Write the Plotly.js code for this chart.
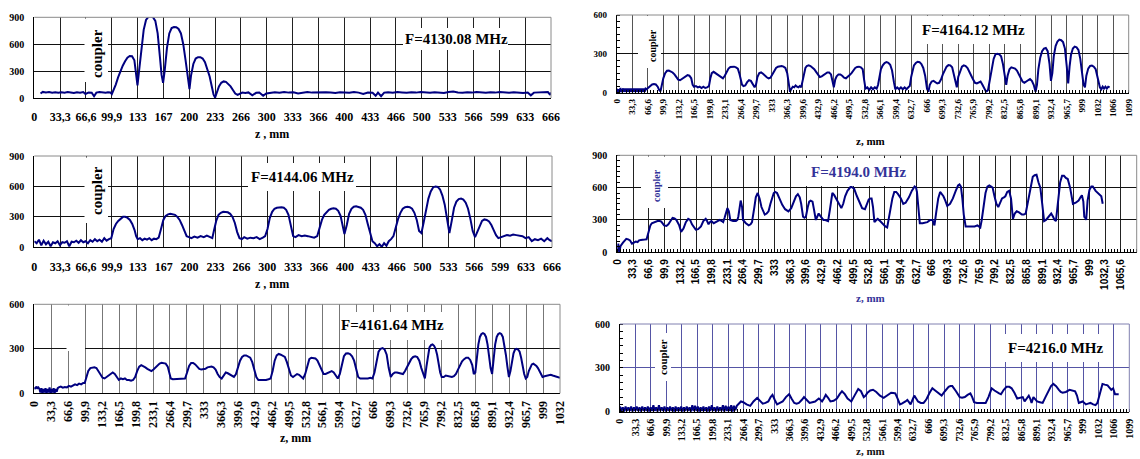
<!DOCTYPE html>
<html><head><meta charset="utf-8">
<script src="https://cdn.plot.ly/plotly-3.0.1.min.js"></script>
<style>html,body{margin:0;padding:0;background:#fff}#chart{width:1140px;height:459px}</style>
</head><body><div id="chart"></div>
<script>
// ---------------- tick labels ----------------
const ticks666 = ["0","33,3","66,6","99,9","133","167","200","233","266","300","333","366","400","433","466","500","533","566","599","633","666"];
const ticks1032 = ["0","33,3","66,6","99,9","133,2","166,5","199,8","233,1","266,4","299,7","333","366,3","399,6","432,9","466,2","499,5","532,8","566,1","599,4","632,7","666","699,3","732,6","765,9","799,2","832,5","865,8","899,1","932,4","965,7","999","1032"];
const ticks1099 = ticks1032.concat(["1066","1099"]);
const ticks1098 = ticks1032.slice(0,31).concat(["1032,3","1065,6","1098,9"]);
const freqs = ["F=4130.08 MHz","F=4144.06 MHz","F=4161.64 MHz","F=4164.12 MHz","F=4194.0 MHz","F=4216.0 MHz"];

// ---------------- measured scans: [z (mm), field] ----------------
const scan4130 = [[8,50],[11,68],[15,62],[19,66],[23,60],[27,64],[31,58],[35,65],[39,60],[43,66],[47,61],[51,55],[55,64],[59,60],[63,66],[66,45],[70,62],[74,58],[77,20],[80,60],[84,66],[88,62],[92,58],[95,64],[98,62],[100,45],
[102,80],[105,150],[108,230],[111,300],[114,360],[117,410],[120,450],[123,468],[126,465],[129,420],[131,300],[133,140],[135,300],[138,560],[141,760],[144,870],[147,905],[150,910],[153,900],[156,860],[159,720],[162,450],[164,260],[166,170],[168,300],[171,560],[174,720],[177,780],[180,792],[183,790],[186,770],[189,720],[192,600],[195,420],[198,220],[200,100],[202,250],[205,380],[208,440],[211,455],[214,455],[217,440],[220,400],[223,330],[226,240],[229,120],[231,40],[233,5],[235,60],[238,130],[241,170],[244,185],[247,180],[250,160],[253,130],[256,90],[259,50],[262,35],[265,45],
[268,60],[272,55],[276,62],[281,30],[286,58],[290,62],[295,25],[299,50],[304,60],[310,65],[316,58],[322,66],[328,60],[334,64],[340,50],[346,62],[352,66],[358,60],[364,63],[370,58],[376,65],[382,62],[388,55],[394,64],[400,62],[406,58],[412,66],[418,60],[424,45],[430,62],[436,58],[440,25],[443,60],[447,20],[451,60],[456,64],[462,58],[468,66],[474,62],[480,58],[486,64],[492,60],[498,66],[504,62],[510,58],[516,64],[522,60],[528,55],[534,66],[540,72],[546,62],[552,58],[558,64],[564,60],[570,66],[576,62],[582,58],[588,64],[594,60],[600,66],[606,62],[612,58],[618,64],[624,60],[630,56],[636,62],[640,30],[644,60],[650,64],[656,60],[662,66],[665,35],[666,60]];

const scan4144 = [[0,60],[3,40],[6,75],[9,20],[12,65],[15,30],[18,55],[21,10],[24,50],[27,40],[30,60],[33,20],[36,50],[39,45],[42,60],[45,10],[48,55],[51,50],[54,65],[57,45],[60,70],[63,50],[66,60],[69,40],[72,70],[75,55],[78,80],[81,60],[84,75],[87,55],[90,90],[93,65],[96,80],[99,90],
[102,180],[105,230],[108,260],[111,285],[114,300],[117,300],[120,290],[123,270],[126,230],[129,170],[131,110],[133,80],[136,90],[139,70],[142,85],[145,75],[148,90],[151,70],[154,85],[157,80],[160,95],[163,180],[166,270],[169,310],[172,325],[175,330],[178,325],[181,320],[184,300],[187,270],[190,220],[193,160],[196,110],[199,100],[202,90],[206,105],[210,95],[214,110],[218,100],[222,115],[226,100],[229,90],[231,160],[234,260],[237,320],[240,340],[243,350],[246,350],[249,345],[252,330],[255,300],[258,240],[261,150],[264,90],[267,80],[270,100],[274,85],[278,95],[282,90],[286,100],[290,80],[294,95],[297,110],
[300,180],[303,290],[306,350],[309,380],[312,390],[315,395],[318,395],[321,390],[324,370],[327,320],[330,220],[333,110],[336,100],[340,120],[344,110],[348,115],[352,110],[356,100],[360,95],[364,110],[367,200],[370,270],[373,320],[376,350],[379,370],[382,380],[385,385],[388,380],[391,360],[394,310],[397,200],[399,130],[402,220],[405,330],[408,380],[411,400],[414,405],[417,400],[420,390],[423,370],[426,320],[429,230],[432,150],[435,60],[438,40],[441,10],[444,30],[447,5],[450,40],[453,15],[456,60],[459,80],[462,110],[465,200],[468,280],[471,340],[474,380],[477,395],[480,400],[483,395],[486,380],[489,340],[492,270],[495,160],[498,140],
[501,250],[504,380],[507,480],[510,550],[513,590],[516,600],[519,595],[522,570],[525,510],[528,420],[531,280],[534,140],[537,260],[540,390],[543,450],[546,475],[549,480],[552,470],[555,440],[558,380],[561,280],[564,160],[567,100],[570,160],[573,220],[576,260],[579,275],[582,270],[585,255],[588,220],[591,170],[594,120],[597,90],[600,100],[604,110],[608,120],[612,115],[616,125],[620,120],[624,115],[628,110],[632,90],[636,100],[640,60],[644,80],[648,70],[652,85],[656,60],[660,90],[663,70],[666,60]];

const scan4161 = [[0,40],[2,30],[4,45],[6,35],[8,40],[10,30],[12,5],[14,35],[16,0],[18,30],[20,5],[22,35],[24,0],[26,30],[28,5],[30,40],[32,0],[34,30],[36,5],[38,35],[40,0],[42,30],[44,10],[46,35],[48,40],[52,45],[56,38],[60,42],[64,40],[68,50],[72,45],[76,55],[80,60],[84,55],[88,65],[92,60],[96,70],[99,70],
[102,110],[106,150],[110,170],[114,175],[118,175],[122,170],[126,150],[130,125],[134,105],[138,100],[142,110],[146,125],[150,135],[154,140],[158,130],[162,110],[166,90],[170,100],[174,95],[178,100],[182,90],[186,90],[190,85],[194,90],[198,110],[202,150],[206,180],[210,190],[214,185],[218,175],[222,165],[226,155],[230,150],[234,160],[238,175],[242,190],[246,200],[250,205],[254,205],[258,200],[262,180],[265,130],[268,100],[272,95],[276,95],[280,95],[284,95],[288,95],[292,95],[296,100],
[300,140],[304,185],[308,205],[312,205],[316,195],[320,180],[324,165],[328,160],[332,160],[336,165],[340,175],[344,180],[348,180],[352,175],[356,160],[360,130],[364,110],[368,100],[372,120],[376,140],[380,135],[384,125],[388,115],[392,110],[396,130],[400,180],[404,220],[408,245],[412,255],[416,255],[420,250],[424,240],[428,210],[432,160],[436,110],[440,90],[445,90],[450,85],[455,90],[460,95],[464,100],[468,150],[472,220],[476,255],[480,265],[484,260],[488,255],[492,245],[496,210],
[500,160],[504,120],[508,110],[512,120],[516,130],[520,125],[524,115],[528,100],[532,130],[536,190],[540,230],[544,240],[548,240],[552,235],[556,220],[560,190],[564,150],[568,130],[572,130],[576,135],[580,145],[584,150],[588,140],[592,120],[596,100],[600,130],[604,200],[608,250],[612,268],[616,270],[620,265],[624,250],[628,220],[632,170],[636,110],[640,100],[645,100],[650,95],[655,100],[660,105],[664,100],[668,140],[672,220],[676,280],[680,300],[684,305],[688,295],[692,260],[696,170],
[700,110],[704,130],[708,140],[712,140],[716,135],[720,130],[724,130],[728,150],[732,180],[736,210],[740,230],[744,245],[748,250],[752,245],[756,220],[760,170],[764,120],[767,100],[770,180],[773,260],[776,310],[779,325],[782,330],[785,320],[788,300],[791,260],[794,200],[797,140],[800,110],[804,110],[808,120],[812,115],[816,115],[820,110],[824,115],[828,130],[832,160],[836,190],[840,215],[844,230],[848,240],[852,240],[856,225],[860,190],[863,130],[866,140],[869,250],[872,330],[875,380],[878,400],[881,405],[884,400],[887,380],[890,330],[893,250],[896,170],[899,130],
[902,230],[905,330],[908,380],[911,400],[914,405],[917,400],[920,380],[923,330],[926,260],[929,180],[932,110],[935,150],[938,220],[941,270],[944,295],[947,300],[950,295],[953,280],[956,240],[959,180],[962,130],[965,100],[968,110],[971,150],[974,180],[977,195],[980,200],[983,195],[986,185],[989,170],[992,150],[995,125],[998,110],[1002,115],[1006,120],[1010,125],[1014,125],[1018,120],[1022,115],[1026,115],[1030,110],[1032.3,105]];

const scan4164 = [[0,30],[2,0],[4,25],[6,5],[8,35],[10,0],[12,20],[14,30],[16,5],[18,30],[20,5],[22,30],[24,5],[26,30],[28,5],[30,30],[32,5],[34,30],[36,5],[38,30],[40,5],[42,30],[44,5],[46,30],[48,5],[50,30],[52,5],[54,30],[56,5],[58,30],[60,5],[62,30],
[64,25],[68,40],[72,55],[76,62],[80,65],[84,62],[88,45],[91,20],[94,10],[97,60],[100,110],[104,150],[108,168],[112,170],[116,165],[120,155],[124,140],[128,120],[132,100],[136,95],[140,105],[144,115],[148,130],[152,135],[156,130],[160,110],[163,60],[166,45],[170,50],[174,40],[178,45],[182,35],[186,45],[190,35],[194,40],[198,50],
[201,110],[204,150],[208,160],[212,150],[216,140],[220,125],[224,115],[228,110],[232,130],[236,160],[240,185],[244,198],[248,200],[252,200],[256,195],[260,185],[263,150],[266,90],[269,60],[272,50],[276,55],[280,80],[284,95],[288,90],[292,65],[296,40],[299,60],
[302,120],[306,150],[310,155],[314,145],[318,130],[322,118],[326,110],[330,115],[334,140],[338,170],[342,190],[346,200],[350,205],[354,205],[358,200],[362,190],[366,150],[369,70],[372,5],[375,30],[378,45],[381,40],[384,55],[387,45],[390,40],[393,50],[396,40],[399,90],
[402,150],[405,190],[408,205],[412,210],[416,205],[420,195],[424,180],[428,160],[432,135],[436,120],[440,125],[444,135],[448,145],[452,155],[456,155],[460,140],[463,90],[466,40],[469,100],[472,125],[476,140],[480,140],[484,130],[488,115],[492,110],[496,120],
[500,135],[504,150],[508,170],[512,190],[516,198],[520,200],[524,195],[528,180],[531,100],[534,30],[538,40],[542,20],[546,40],[550,25],[554,40],[558,30],[561,60],[564,130],[567,180],[571,210],[575,228],[579,235],[583,230],[587,215],[591,170],[595,80],[598,25],
[602,40],[606,25],[610,40],[614,25],[618,40],[622,25],[626,40],[629,50],[632,120],[635,170],[638,210],[642,228],[646,238],[650,235],[654,220],[658,190],[662,130],[666,30],[669,5],[672,60],[676,85],[680,90],[684,80],[688,70],[692,75],[696,100],
[700,140],[704,175],[708,200],[712,212],[716,210],[720,195],[724,140],[727,80],[730,40],[733,120],[737,170],[741,200],[745,210],[749,205],[753,190],[757,165],[761,130],[765,100],[769,75],[773,70],[777,75],[781,85],[785,60],[789,30],[793,5],[797,20],
[801,110],[805,200],[809,260],[813,295],[817,300],[821,295],[825,280],[829,220],[833,110],[836,60],[839,130],[843,180],[847,195],[851,192],[855,185],[859,170],[863,140],[867,110],[871,85],[875,75],[879,85],[883,100],[887,105],[891,90],[895,60],[899,5],
[902,60],[905,180],[909,270],[913,320],[917,340],[921,345],[925,320],[929,220],[932,90],[935,150],[938,280],[942,360],[946,395],[950,410],[954,405],[958,390],[962,340],[966,200],[969,70],[972,200],[975,290],[979,340],[983,355],[987,350],[991,330],[995,260],[999,150],
[1002,60],[1005,40],[1008,130],[1012,185],[1016,205],[1020,208],[1024,200],[1028,180],[1031,130],[1034,80],[1037,40],[1040,25],[1043,45],[1046,30],[1049,45],[1052,30],[1055,45],[1058,40]];

const scan4194 = [[0,30],[2,80],[4,0],[7,60],[12,90],[19,125],[23,120],[27,110],[31,80],[35,90],[39,100],[43,95],[46,110],[50,115],[54,120],[58,118],[62,120],[66,200],[70,250],[73,270],[78,280],[85,290],[90,290],[93,285],[99,250],[104,245],[108,260],[113,300],[117,320],[121,315],[125,300],[131,250],[135,190],[140,220],[145,280],[150,310],[154,300],[158,260],[162,230],[166,210],[171,215],[177,240],[182,290],[187,310],[190,290],[193,260],[196,280],[199,290],
[204,270],[208,280],[212,290],[217,300],[221,290],[224,280],[227,320],[230,380],[233,410],[236,380],[239,300],[245,290],[251,290],[254,300],[256,330],[259,420],[261,480],[264,420],[266,300],[272,270],[278,250],[282,260],[285,280],[290,420],[293,510],[297,550],
[301,500],[305,420],[309,370],[312,350],[316,360],[320,380],[324,450],[328,520],[331,550],[334,560],[338,550],[343,500],[349,440],[355,400],[362,380],[368,410],[374,470],[378,520],[382,540],[386,510],[389,450],[391,380],[393,330],[396,320],[399,330],
[403,420],[406,470],[409,480],[413,470],[416,400],[420,300],[423,330],[426,360],[429,340],[432,320],[436,300],[440,300],[446,290],[450,400],[455,550],[459,530],[463,500],[468,460],[474,410],[478,450],[482,520],[487,570],[491,600],[494,610],[498,600],
[501,590],[507,520],[513,450],[518,410],[524,400],[528,440],[532,490],[536,500],[538,500],[541,420],[544,280],[548,300],[551,310],[556,290],[560,270],[563,250],[567,240],[571,230],[574,300],[578,420],[582,500],[586,560],[590,560],[594,540],
[600,500],[605,450],[610,460],[617,510],[623,570],[629,610],[632,600],[634,560],[637,420],[640,270],[646,270],[652,280],[656,280],[662,300],[667,300],[669,270],[671,250],[675,380],[679,500],[683,560],[687,540],[690,520],[694,480],[698,430],
[704,450],[710,500],[716,570],[721,620],[724,630],[727,610],[730,500],[733,350],[737,240],[746,240],[756,240],[762,250],[768,230],[771,300],[775,440],[779,550],[783,610],[787,620],[791,610],[794,600],[798,520],
[802,450],[806,420],[810,460],[814,500],[818,510],[821,520],[825,560],[829,570],[833,500],[837,310],[841,360],[845,380],[850,370],[856,350],[860,350],[864,360],[868,450],[872,550],[876,650],[879,700],[883,715],[887,720],[891,650],[895,600],[899,450],
[903,290],[907,300],[911,320],[915,350],[918,360],[922,330],[925,300],[928,290],[931,400],[934,550],[937,650],[941,710],[945,710],[949,690],[953,680],[958,600],[964,450],[970,460],[976,480],[980,510],[983,530],[986,470],[988,330],[990,320],[992,300],[995,480],[999,580],
[1003,610],[1006,610],[1012,570],[1018,540],[1022,520],[1024,520],[1027,450]];

const scan4216 = [[0,35],[3,5],[6,30],[9,0],[12,35],[15,5],[18,30],[21,5],[24,35],[27,0],[30,30],[33,5],[36,35],[39,5],[42,30],[45,0],[48,35],[51,5],[54,30],[57,5],[60,35],[63,0],[66,30],[69,5],[72,45],[75,5],[78,30],[81,0],[84,45],[87,5],[90,30],[93,5],[96,35],[99,0],[102,30],[105,5],[108,35],[111,5],[114,30],[117,0],[120,35],[123,5],[126,30],[129,5],[132,35],[135,0],[138,30],[141,5],[144,35],[147,5],[150,30],[153,0],[156,45],[159,5],[162,40],[165,5],[168,35],[171,0],[174,30],[177,5],[180,35],[183,5],[186,30],[189,0],[192,35],[195,5],[198,45],[201,5],[204,30],[207,0],[210,35],[213,5],[216,30],[219,5],[222,45],[225,0],[228,40],[231,5],[234,35],[237,5],[240,45],[243,0],[246,40],[249,10],
[252,40],[256,55],[261,70],[266,65],[273,50],[281,40],[288,70],[296,95],[302,75],[308,55],[314,60],[320,70],[325,100],[329,115],[334,80],[339,50],[345,60],[351,70],[358,100],[365,120],[370,90],[376,60],[381,55],[386,60],[392,80],[397,100],
[403,80],[409,60],[415,65],[421,70],[425,80],[429,90],[433,80],[436,70],[440,90],[444,115],[449,95],[454,70],[461,75],[468,90],[474,120],[479,140],[485,120],[491,90],[495,80],[499,70],
[506,110],[514,155],[520,140],[526,100],[530,110],[534,130],[540,145],[546,150],[553,135],[561,110],[569,95],[577,110],[585,130],[590,128],[594,125],[599,90],
[604,50],[608,55],[612,60],[616,70],[620,80],[624,65],[627,50],[631,80],[635,110],[639,90],[643,70],[649,60],[655,60],[659,75],[662,90],[668,130],[674,160],[680,145],[686,130],[690,120],[694,110],
[701,140],[709,170],[713,175],[717,175],[725,140],[733,100],[738,95],[744,100],[750,115],[756,125],[760,100],[764,65],[770,60],[776,60],[783,55],[789,60],[795,100],
[802,160],[808,145],[814,130],[818,125],[822,120],[828,150],[834,170],[840,170],[845,160],[851,130],[857,90],[863,95],[869,100],[873,70],[878,95],[882,110],[885,90],[888,60],[892,100],[896,85],
[900,70],[906,65],[912,60],[918,100],[924,140],[930,175],[935,190],[941,175],[947,150],[951,135],[955,130],[962,135],[970,150],[976,145],[982,140],[986,110],[990,60],[994,65],[998,70],
[1002,60],[1005,50],[1010,55],[1015,60],[1021,50],[1026,45],[1030,60],[1033,100],[1037,150],[1041,190],[1046,185],[1052,180],[1056,165],[1060,150],[1064,160],[1068,120],[1072,120],[1076,120]];

// ---------------- styling / layout ----------------
const W = 1140, H = 459;
const SERIF = 'Liberation Serif, Times New Roman, serif';
const SANS = 'Liberation Sans, Arial, sans-serif';
const NAVY = '#000080';
const BLUE = '#333399';
const fx = p => p / W;
const fy = p => 1 - p / H;

// panel boxes in pixels: [left, top, right, bottom]
const panels = [
  {scan: scan4130, box:[34.3,17.3,551,98],   xmax:666,    ymax:900, ticks:ticks666, rot:0,
   xgrid:'#222', ygrid:'#111', xfont:{family:SERIF,size:12,color:'#000'}, yfont:{family:SERIF,size:10,color:'#000'}},
  {scan: scan4144, box:[34.3,156,552,247.3], xmax:666,    ymax:900, ticks:ticks666, rot:0,
   xgrid:'#222', ygrid:'#111', xfont:{family:SERIF,size:12,color:'#000'}, yfont:{family:SERIF,size:10,color:'#000'}},
  {scan: scan4161, box:[34.3,304.3,560,393.3], xmax:1032.3, ymax:600, ticks:ticks1032, rot:-90,
   xgrid:'#777', ygrid:'#111', xfont:{family:SERIF,size:12,color:'#000'}, yfont:{family:SERIF,size:10,color:'#000'}},
  {scan: scan4164, box:[616.7,15,1128.7,92.5], xmax:1098.9, ymax:600, ticks:ticks1099, rot:-90, minor:true,
   xgrid:'#555', ygrid:'#111', xfont:{family:SERIF,size:9,color:'#000'}, yfont:{family:SERIF,size:9,color:'#000'}},
  {scan: scan4194, box:[617.3,155.3,1136.7,252.3], xmax:1098.9, ymax:900, ticks:ticks1098, rot:-90, minor:true,
   xgrid:'#222', ygrid:'#111', xfont:{family:SANS,size:10,color:'#000'}, yfont:{family:SERIF,size:10,color:'#000'}},
  {scan: scan4216, box:[620,324,1129.3,411.7], xmax:1098.9, ymax:600, ticks:ticks1099, rot:-90, minor:true,
   xgrid:'#5555a5', ygrid:'#5555a5', xfont:{family:SERIF,size:10,color:'#000'}, yfont:{family:SERIF,size:10,color:'#000'}}
];

const data = [];
const layout = {
  width: W, height: H, margin:{l:0,r:0,t:0,b:0},
  paper_bgcolor:'#fff', plot_bgcolor:'#fff', showlegend:false,
  shapes: [], annotations: []
};

panels.forEach((p, i) => {
  const n = i + 1, xs = n === 1 ? '' : String(n);
  const [l, t, r, b] = p.box;
  data.push({
    x: p.scan.map(q => q[0]), y: p.scan.map(q => q[1]),
    xaxis: 'x' + xs, yaxis: 'y' + xs, mode: 'lines',
    line: {color: NAVY, width: 2}, hoverinfo: 'skip'
  });
  const xa = {
    domain: [fx(l), fx(r)], range: [0, p.xmax], anchor: 'y' + xs,
    tickmode: 'array', tickvals: p.ticks.map((_, k) => k * 33.3), ticktext: p.ticks.map(s => '<b>' + s + '</b>'),
    tickangle: p.rot, tickfont: p.xfont,
    showgrid: true, gridcolor: p.xgrid, gridwidth: 1, zeroline: false,
    showline: true, linecolor: '#000', linewidth: 1,
    ticks: 'outside', ticklen: p.rot === 0 ? 8 : 2, tickcolor: 'rgba(0,0,0,0)', fixedrange: true
  };
  const ya = {
    domain: [fy(b), fy(t)], range: [0, p.ymax], anchor: 'x' + xs,
    tickmode: 'array', tickvals: p.ymax === 900 ? [0,300,600,900] : [0,300,600],
    ticktext: (p.ymax === 900 ? ['0','300','600','900'] : ['0','300','600']).map(s => '<b>' + s + '</b>'),
    tickfont: p.yfont, showgrid: true, gridcolor: p.ygrid, gridwidth: 1, zeroline: false,
    showline: true, linecolor: '#000', linewidth: 1,
    ticks: 'outside', ticklen: 7, tickcolor: 'rgba(0,0,0,0)', fixedrange: true
  };
  if (p.minor) {
    xa.minor = {tickmode: 'linear', tick0: 0, dtick: 6.66, ticks: 'inside', ticklen: 3, tickcolor: '#000', showgrid: false};
    ya.minor = {tickmode: 'linear', tick0: 0, dtick: 50, ticks: 'inside', ticklen: 3, tickcolor: '#000', showgrid: false};
  }
  layout['xaxis' + xs] = xa;
  layout['yaxis' + xs] = ya;
  // grey top and right frame
  const fc = n === 6 ? '#8080b0' : '#8a8a8a';
  layout.shapes.push({type:'line', xref:'paper', yref:'paper', x0:fx(l), x1:fx(r), y0:fy(t), y1:fy(t), line:{color:fc, width:1}, layer:'above'});
  layout.shapes.push({type:'line', xref:'paper', yref:'paper', x0:fx(r), x1:fx(r), y0:fy(t), y1:fy(b), line:{color:fc, width:1}, layer:'above'});
});

// white label boxes [x0, y0, x1, y1] in px
const boxes = [
  [403,28,508,50],  [84.5,18.5,108,82],
  [248,163,356,191], [84.5,157.5,108,223],
  [340,312,445,340], [66.5,305.5,85,351],
  [913,16,1030,44],  [638,16,661,68],
  [806,158,912,186], [641,156.5,668,208],
  [1005,334,1108,362], [655,333,671,381]
];
boxes.forEach(bx => layout.shapes.push({type:'rect', xref:'paper', yref:'paper',
  x0:fx(bx[0]), x1:fx(bx[2]), y0:fy(bx[3]), y1:fy(bx[1]), fillcolor:'#fff', line:{width:0}, layer:'above'}));

function ann(text, x, y, size, color, angle, family) {
  layout.annotations.push({text:'<b>' + text + '</b>', x:fx(x), y:fy(y), xref:'paper', yref:'paper',
    showarrow:false, xanchor:'center', yanchor:'middle', textangle: angle || 0,
    font:{family: family || SERIF, size:size, color:color}});
}
// frequency labels
ann(freqs[0], 456, 39, 15, '#000');
ann(freqs[1], 302, 177, 15, '#000');
ann(freqs[2], 392, 325, 15, '#000');
ann(freqs[3], 973, 30, 15, '#000');
ann(freqs[4], 859, 172, 15, BLUE);
ann(freqs[5], 1056, 348, 15, '#000');
// coupler labels
ann('coupler', 97, 54, 15, '#000', -90);
ann('coupler', 97, 191, 15, '#000', -90);
ann('coupler', 652, 46, 10, '#000', -90);
ann('coupler', 656, 186, 10, BLUE, -90);
ann('coupler', 663, 357, 11, '#000', -90);
// axis titles
ann('z , mm', 272, 134, 12, '#000');
ann('z , mm', 272, 284, 12, '#000');
ann('z, mm', 295, 438, 12, '#000');
ann('z, mm', 870, 141, 11, '#000');
ann('z, mm', 870, 298, 11, BLUE);
ann('z, mm', 870, 451, 11, '#111');

Plotly.newPlot('chart', data, layout, {staticPlot: true});
</script></body></html>
